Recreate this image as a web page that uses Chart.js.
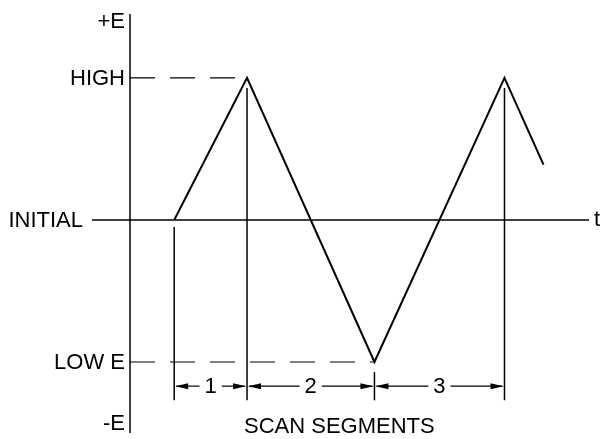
<!DOCTYPE html>
<html>
<head>
<meta charset="utf-8">
<title>Scan segments</title>
<script src="https://cdn.jsdelivr.net/npm/chart.js@4"></script>
<style>
    body { margin: 0; background: #fff; }
    canvas { display: block; }
</style>
</head>
<body>
<canvas id="scan-chart" width="604" height="439"></canvas>
<script>
    // triangle scan: time (arbitrary units) vs potential (HIGH = 1, LOW = -1)
    const scanTime = [0, 1.12, 3.08, 5.08, 5.68];
    const scanPotential = [0, 1, -1, 1, 0.39];
    const potentialTicks = [1.4, 1, 0, -1, -1.43];
    const potentialLabels = ['+E', 'HIGH', 'INITIAL', 'LOW E', '-E'];
    const segmentLabels = ['1', '2', '3'];
    const timeRange = [-0.68, 6.38];
    const potentialRange = [-1.5, 1.45];

    const labelFont = '22px "Liberation Sans", Arial, sans-serif';

    function strokeLine(ctx, x1, y1, x2, y2) {
        ctx.beginPath();
        ctx.moveTo(x1, y1);
        ctx.lineTo(x2, y2);
        ctx.stroke();
    }

    function arrowHead(ctx, x, y, dir) {
        // dir = -1 points left, 1 points right
        ctx.beginPath();
        ctx.moveTo(x, y);
        ctx.lineTo(x - dir * 13, y - 3);
        ctx.lineTo(x - dir * 13, y + 3);
        ctx.closePath();
        ctx.fill();
    }

    const diagramPlugin = {
        id: 'diagram',
        afterDatasetsDraw(chart) {
            const ctx = chart.ctx;
            const xs = chart.scales.x;
            const ys = chart.scales.y;
            const area = chart.chartArea;
            const yZero = ys.getPixelForValue(0);

            ctx.save();
            ctx.strokeStyle = '#000';
            ctx.fillStyle = '#000';
            ctx.font = labelFont;
            ctx.textBaseline = 'middle';

            // potential axis
            ctx.lineWidth = 1.5;
            strokeLine(ctx, area.left, area.top, area.left, area.bottom);

            // potential labels
            ctx.textAlign = 'right';
            potentialLabels.forEach((label, i) => {
                const y = ys.getPixelForValue(potentialTicks[i]) + 1;
                const x = potentialTicks[i] === 0 ? area.left - 47 : area.left - 5;
                ctx.fillText(label, x, y);
            });

            // time axis
            strokeLine(ctx, area.left - 38, yZero, area.right, yZero);
            ctx.textAlign = 'left';
            ctx.fillText('t', area.right + 5, yZero);

            // dashed HIGH / LOW guides
            ctx.lineWidth = 1.2;
            ctx.setLineDash([25, 15]);
            [1, -1].forEach(level => {
                const idx = scanPotential.indexOf(level);
                const y = ys.getPixelForValue(level);
                strokeLine(ctx, area.left, y, xs.getPixelForValue(scanTime[idx]), y);
            });
            ctx.setLineDash([]);

            // segment markers
            const markBottom = ys.getPixelForValue(-1.27);
            const arrowY = ys.getPixelForValue(-1.17);
            ctx.lineWidth = 1.5;
            for (let i = 0; i <= segmentLabels.length; i++) {
                const x = xs.getPixelForValue(scanTime[i]);
                const top = ys.getPixelForValue(scanPotential[i]) + (i === 0 ? 7 : 10);
                strokeLine(ctx, x, top, x, markBottom);
            }

            ctx.textAlign = 'center';
            segmentLabels.forEach((label, i) => {
                const x1 = xs.getPixelForValue(scanTime[i]);
                const x2 = xs.getPixelForValue(scanTime[i + 1]);
                const mid = (x1 + x2) / 2;
                const half = ctx.measureText(label).width / 2 + 5;
                ctx.lineWidth = 1.2;
                strokeLine(ctx, x1 + 2, arrowY, mid - half, arrowY);
                strokeLine(ctx, mid + half, arrowY, x2 - 2, arrowY);
                arrowHead(ctx, x1 + 1, arrowY, -1);
                arrowHead(ctx, x2 - 1, arrowY, 1);
                ctx.fillText(label, mid, arrowY + 1);
            });

            // caption
            const capX = (xs.getPixelForValue(scanTime[0]) + xs.getPixelForValue(scanTime[3])) / 2;
            ctx.fillText('SCAN SEGMENTS', capX, ys.getPixelForValue(-1.45) + 1);

            ctx.restore();
        }
    };

    const scanCtx = document.getElementById('scan-chart').getContext('2d');
    const scanChart = new Chart(scanCtx, {
        type: 'scatter',
        data: {
            datasets: [{
                label: 'Potential',
                data: scanTime.map((t, i) => ({ x: t, y: scanPotential[i] })),
                showLine: true,
                borderColor: '#000',
                borderWidth: 2,
                pointRadius: 0,
                tension: 0
            }]
        },
        options: {
            responsive: false,
            animation: false,
            layout: {
                padding: { left: 130, right: 15, top: 14, bottom: 6 }
            },
            plugins: {
                legend: { display: false },
                tooltip: { enabled: false }
            },
            scales: {
                x: {
                    type: 'linear',
                    display: false,
                    min: timeRange[0],
                    max: timeRange[1]
                },
                y: {
                    type: 'linear',
                    display: false,
                    min: potentialRange[0],
                    max: potentialRange[1]
                }
            }
        },
        plugins: [diagramPlugin]
    });
</script>
</body>
</html>
